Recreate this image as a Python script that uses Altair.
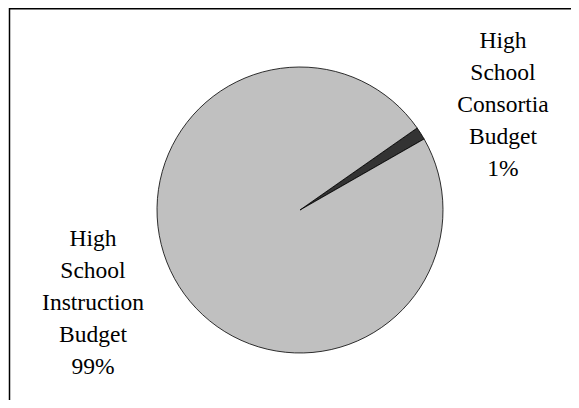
import math
import altair as alt
import pandas as pd

# ---- data ----
categories = ["High School Consortia Budget", "High School Instruction Budget"]
values = [1.45, 98.55]
label_lines = [["High", "School", "Consortia", "Budget"],
               ["High", "School", "Instruction", "Budget"]]
pct_labels = ["1%", "99%"]
slice_order = [1, 2]
slice_colors = ["#333333", "#c0c0c0"]

df = pd.DataFrame({
    "category": categories,
    "value": values,
    "order": slice_order,
    "label": ["\n".join(l + [p]) for l, p in zip(label_lines, pct_labels)],
})

start = math.radians(55)
base = alt.Chart(df)

pie = base.mark_arc(radius=143, stroke="black", strokeWidth=0.8).encode(
    theta=alt.Theta("value:Q", stack=True,
                    scale=alt.Scale(range=[start, start + 2 * math.pi])),
    color=alt.Color("category:N",
                    scale=alt.Scale(domain=categories, range=slice_colors),
                    legend=None),
    order=alt.Order("order:Q"),
    x=alt.value(292),
    y=alt.value(202),
)

text_style = dict(font="Liberation Serif", fontSize=23.5,
                  lineBreak="\n", lineHeight=32, align="center",
                  baseline="alphabetic", color="black")

label_right = base.transform_filter(alt.datum.order == 1).mark_text(**text_style).encode(
    text="label:N", x=alt.value(495), y=alt.value(40))
label_left = base.transform_filter(alt.datum.order == 2).mark_text(**text_style).encode(
    text="label:N", x=alt.value(85), y=alt.value(238))

frame_src = alt.Chart(pd.DataFrame({"k": [0]}))
frame_top = frame_src.mark_rule(color="black", strokeWidth=1.5).encode(
    x=alt.value(1), x2=alt.value(563), y=alt.value(0.75))
frame_left = frame_src.mark_rule(color="black", strokeWidth=1.5).encode(
    x=alt.value(1.5), y=alt.value(0), y2=alt.value(392))

chart = alt.layer(pie, label_right, label_left, frame_top, frame_left).properties(
    width=563, height=392,
    autosize=alt.AutoSizeParams(type="none"),
    padding=0,
).configure_view(stroke=None)

chart.save("out.html", embed_options={"renderer": "svg", "actions": False})
